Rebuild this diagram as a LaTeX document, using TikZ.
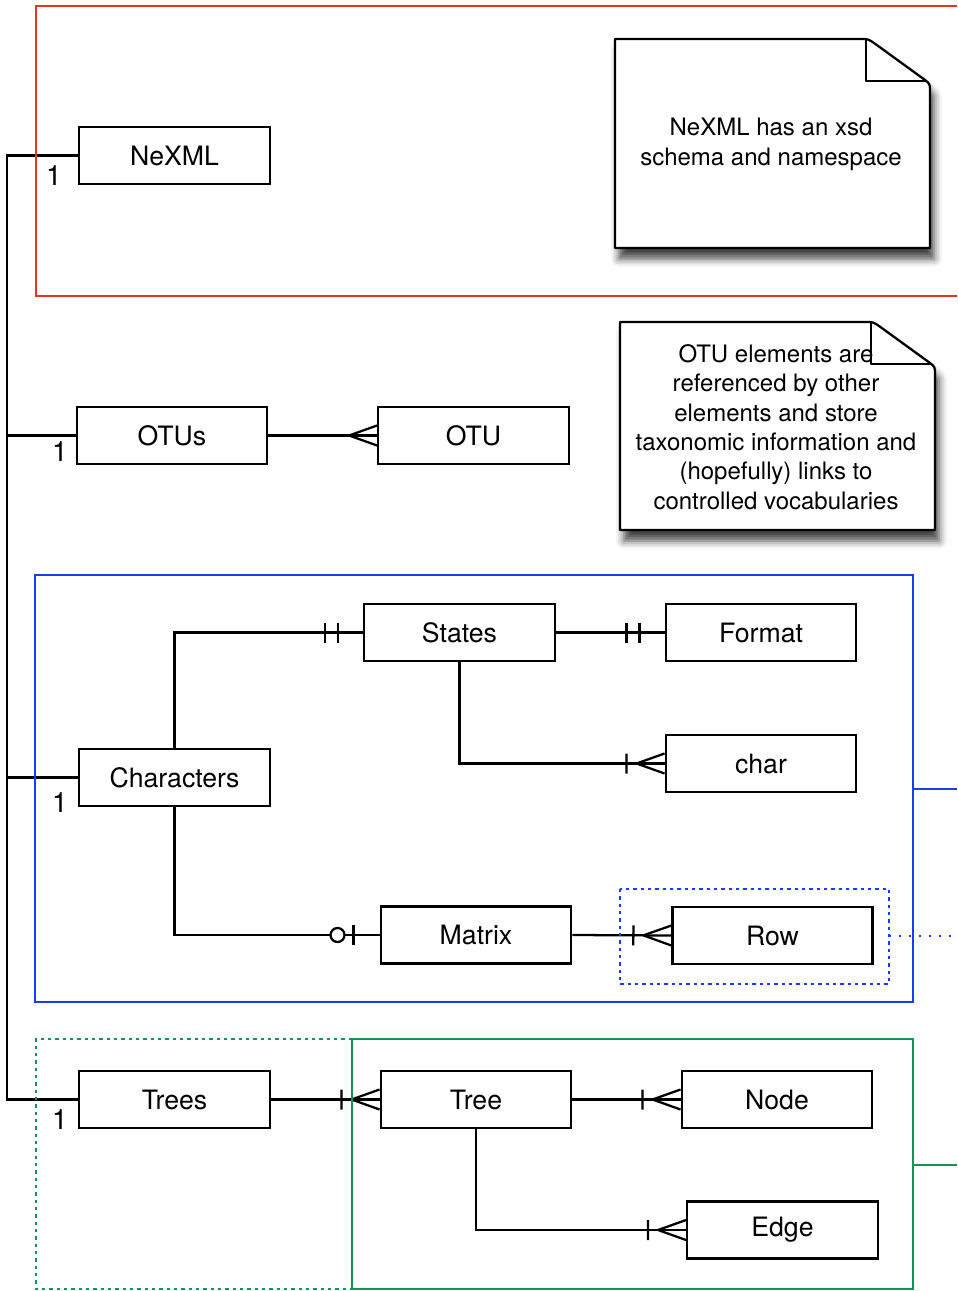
\documentclass[tikz,border=0pt]{standalone}
\usepackage{fontspec}
\setmainfont{TeX Gyre Heros}
\usetikzlibrary{decorations.markings,shadows.blur}
\definecolor{groupred}{RGB}{232,52,30}
\definecolor{groupblue}{RGB}{22,62,240}
\definecolor{groupgreen}{RGB}{16,150,84}

\begin{document}
\begin{tikzpicture}[x=0.75pt,y=-0.75pt]
        \tikzset{
            entity/.style={draw,line width=1.7pt,minimum width=143pt,minimum height=42.75pt,inner sep=0pt,font=\fontsize{20}{24}\selectfont},
            link/.style={line width=1.7pt},
            card/.style={inner sep=0pt,font=\fontsize{21}{24}\selectfont},
            notetext/.style={align=center,inner sep=0pt,font=\fontsize{18}{22}\selectfont},
            notepaper/.style={draw,fill=white,line width=1.7pt,line join=round,
                    blur shadow={shadow xshift=3pt,shadow yshift=-8pt,shadow blur radius=6pt,shadow opacity=75}},
            group/.style={line width=1.5pt},
            many/.style={postaction={decorate,decoration={markings,mark=at position 1 with
                        {\draw[link] (-28,0) -- (0,10) (-28,0) -- (0,-10);}}}},
            onemany/.style={postaction={decorate,decoration={markings,mark=at position 1 with
                        {\draw[link] (-28,0) -- (0,10) (-28,0) -- (0,-10) (-38,-10) -- (-38,10);}}}},
            oneone/.style={postaction={decorate,decoration={markings,mark=at position 1 with
                        {\draw[link] (-38,-10) -- (-38,10) (-25,-10) -- (-25,10);}}}},
            zeroone/.style={postaction={decorate,decoration={markings,mark=at position 1 with
                        {\draw[link,fill=white] (-42,0) circle (7); \draw[link] (-26,-10) -- (-26,10);}}}}
        }
        \useasboundingbox (0,0) rectangle (957,1291);

        % notes
        \path[notepaper] (615,39) -- (860,39) .. controls (868,39) .. (874,43) -- (925,80)
            .. controls (930,84) .. (930,92) -- (930,248) -- (615,248) -- cycle;
        \draw[link,line join=round] (866,40) -- (866,81) -- (926,81);
        \node[notetext,font=\fontsize{18}{22.5}\selectfont] (note1) at (771,144) {NeXML has an xsd\\schema and namespace};

        \path[notepaper] (620,322) -- (865,322) .. controls (873,322) .. (879,326) -- (930,363)
            .. controls (935,367) .. (935,375) -- (935,530) -- (620,530) -- cycle;
        \node[notetext] (note2) at (776,427) {OTU elements are\\referenced by other\\elements and store\\taxonomic information and\\(hopefully) links to\\controlled vocabularies};
        \draw[link,line join=round] (871,323) -- (871,364) -- (931,364);

        % entities
        \node[entity] (nexml) at (174.5,155.5) {NeXML};
        \node[entity] (otus) at (172,435.5) {OTUs};
        \node[entity] (otu) at (473.5,435.5) {OTU};
        \node[entity] (states) at (459.5,632.5) {States};
        \node[entity] (format) at (761,632.5) {Format};
        \node[entity] (charent) at (761,763.5) {char};
        \node[entity] (characters) at (174.5,777.5) {Characters};
        \node[entity] (matrix) at (476,935) {Matrix};
        \node[entity,minimum width=150pt] (row) at (772.5,935.5) {Row};
        \node[entity] (trees) at (174.5,1099.5) {Trees};
        \node[entity] (tree) at (476,1099.5) {Tree};
        \node[entity] (treenode) at (777,1099.5) {Node};
        \node[entity] (treeedge) at (782.5,1230) {Edge};

        \foreach \n/\x/\y in {1/54/176,2/60/452,3/60/803,4/60/1120}{
                \node[card] (card\n) at (\x,\y) {1};
            }

        % connectors
        \coordinate (spinetop) at (7,155.5);
        \coordinate (spinebot) at (7,1099.5);
        \draw[link] (nexml.west) -- (spinetop) -- (spinebot) -- (trees.west);
        \draw[link] (otus.west) -- (otus.west -| spinetop);
        \draw[link] (characters.west) -- (characters.west -| spinetop);

        \draw[link,many] (otus.east) -- (otu.west);
        \draw[link,oneone] (characters.north) |- (states.west);
        \draw[link,oneone] (states.east) -- (format.west);
        \draw[link,onemany] (states.south) |- (charent.west);
        \draw[link,zeroone] (characters.south) |- (matrix.west);
        \draw[link,onemany] (matrix.east) -- (row.west);
        \draw[link,onemany] (trees.east) -- (tree.west);
        \draw[link,onemany] (tree.east) -- (treenode.west);
        \draw[link,onemany] (tree.south) |- (treeedge.west);

        % groups
        \draw[group,groupred] (957,6) -- (36,6) -- (36,296) -- (957,296);
        \draw[group,groupblue] (35,575) rectangle (913,1002);
        \draw[group,groupblue] (913,789) -- (957,789);
        \draw[group,groupblue,dash pattern=on 2.5pt off 3pt] (620,889) rectangle (889,984);
        \draw[group,groupblue,dash pattern=on 1.5pt off 6pt] (889,936) -- (957,936);
        \draw[group,groupgreen,dash pattern=on 2.5pt off 3pt] (352,1039) -- (36,1039) -- (36,1289) -- (352,1289);
        \draw[group,groupgreen] (352,1039) rectangle (913,1289);
        \draw[group,groupgreen] (913,1165) -- (957,1165);

    \end{tikzpicture}
\end{document}
